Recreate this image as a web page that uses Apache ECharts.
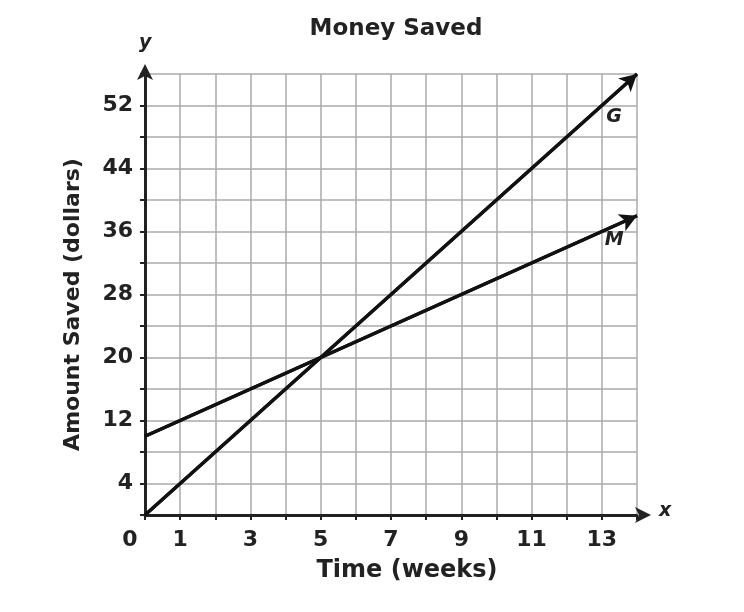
<!DOCTYPE html>
<html><head><meta charset="utf-8">
<script src="https://cdn.jsdelivr.net/npm/echarts@6/dist/echarts.min.js"></script>
<style>html,body{margin:0;padding:0;background:#fff}#c{width:744px;height:612px}</style>
</head><body><div id="c"></div>
<script>
var weeks = [0, 14];
var savedG = [0, 56];
var savedM = [10, 38];
var xTickLabels = [1, 3, 5, 7, 9, 11, 13];
var yTickLabels = [4, 12, 20, 28, 36, 44, 52];
var labelG = [13.35, 50.5];
var labelM = [13.35, 34.9];

var font = 'DejaVu Sans';
function pairs(xs, ys){ return xs.map(function(x,i){return [x, ys[i]];}); }
function mkSeries(name, ys, lab){
  var d = pairs(weeks, ys);
  return {
    type:'line', name:name, data:d, showSymbol:false, silent:true,
    lineStyle:{color:'#111', width:3.2},
    markLine:{silent:true, symbol:['none','arrow'], symbolSize:[14,17],
      lineStyle:{color:'#111', width:3.2, type:'solid'}, label:{show:false},
      data:[[{coord:d[0]},{coord:d[d.length-1]}]]},
    markPoint:{silent:true, symbol:'circle', symbolSize:1, itemStyle:{color:'rgba(0,0,0,0)'},
      label:{show:true, formatter:name, color:'#222', fontFamily:font, fontWeight:'bold', fontStyle:'italic', fontSize:19},
      data:[{coord:lab}]}
  };
}
var chart = echarts.init(document.getElementById('c'));
chart.setOption({
  animation:false,
  title:{text:'Money Saved', left:391, textAlign:'center', top:13, textStyle:{fontFamily:font, fontWeight:'bold', fontSize:23, color:'#222'}},
  grid:{left:145, right:107, top:74, bottom:97},
  xAxis:{type:'value', min:0, max:14, interval:1,
    name:'Time (weeks)', nameLocation:'middle', nameGap:44,
    nameTextStyle:{fontFamily:font, fontWeight:'bold', fontSize:24, color:'#222', padding:[0,0,0,32]},
    axisLine:{show:true, onZero:false, lineStyle:{color:'#222', width:3}, symbol:['none','arrow'], symbolSize:[12,16], symbolOffset:[0,14]},
    axisTick:{show:true, inside:false, length:5, lineStyle:{color:'#222', width:2}},
    axisLabel:{margin:14, fontFamily:font, fontWeight:'bold', fontSize:22, color:'#222',
      formatter:function(v){ if(v===0) return '{z|0}'; return xTickLabels.indexOf(v)>=0 ? String(v) : ''; },
      rich:{z:{fontFamily:font, fontWeight:'bold', fontSize:22, color:'#222', padding:[0,30,0,0]}}},
    splitLine:{show:true, lineStyle:{color:'#aaa', width:1.5}}
  },
  yAxis:{type:'value', min:0, max:56, interval:4,
    name:'Amount Saved (dollars)', nameLocation:'middle', nameGap:61, nameRotate:90,
    nameTextStyle:{fontFamily:font, fontWeight:'bold', fontSize:22, color:'#222', padding:[0,20,0,0]},
    axisLine:{show:true, onZero:false, lineStyle:{color:'#222', width:3}, symbol:['none','arrow'], symbolSize:[12,16], symbolOffset:[0,10]},
    axisTick:{show:true, inside:false, length:5, lineStyle:{color:'#222', width:2}},
    axisLabel:{margin:12, fontFamily:font, fontWeight:'bold', fontSize:22, color:'#222',
      formatter:function(v){ return yTickLabels.indexOf(v)>=0 ? String(v) : ''; }},
    splitLine:{show:true, lineStyle:{color:'#aaa', width:1.5}}
  },
  graphic:[],
  series:[mkSeries('G', savedG, labelG), mkSeries('M', savedM, labelM)]
});
var o = chart.convertToPixel({gridIndex:0}, [0, 56]);
var e = chart.convertToPixel({gridIndex:0}, [14, 0]);
chart.setOption({graphic:[
  {type:'text', left:o[0]-6, top:o[1]-40, style:{text:'y', font:'italic bold 19px "DejaVu Sans"', fill:'#222'}},
  {type:'text', left:e[0]+22, top:e[1]-13, style:{text:'x', font:'italic bold 19px "DejaVu Sans"', fill:'#222'}}
]});
</script></body></html>
